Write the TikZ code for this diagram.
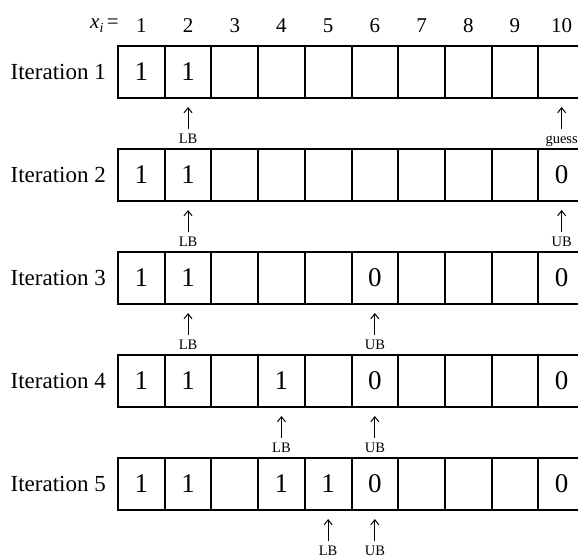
\documentclass[tikz,border=0pt]{standalone}
\usepackage{fontspec}
\setmainfont{Liberation Serif}
\usetikzlibrary{arrows.meta}
\tikzset{
  cell/.style={draw, line width=2pt, minimum width=46.7pt, minimum height=52pt, inner sep=0pt},
  val/.style={inner sep=0pt, font=\fontsize{27}{30}\selectfont},
  rowlab/.style={anchor=east, inner sep=0pt, font=\fontsize{23}{26}\selectfont},
  head/.style={inner sep=0pt, font=\fontsize{21}{24}\selectfont},
  ptr/.style={anchor=base, inner sep=0pt, font=\fontsize{14.5}{16}\selectfont},
  arr/.style={line width=1pt, -{Straight Barb[length=5pt,width=8pt]}}
}
\begin{document}
\begin{tikzpicture}[x=1pt,y=-1pt]
\useasboundingbox (0,0) rectangle (578,557);
\clip (0,0) rectangle (578,557);
\fill[white] (0,0) rectangle (578,557);
% header
\node[head, anchor=east] (hx) at (119,26) {\itshape x\raisebox{-0.4ex}{\fontsize{14}{14}\selectfont i}\upshape\,=};
\foreach \c in {1,...,10} {
  \node[head] (h\c) at ({141.35+(\c-1)*46.7},26) {\c};
}
% rows
\foreach \r in {1,...,5} {
  \pgfmathsetmacro{\cy}{72+(\r-1)*103}
  \node[rowlab] (it\r) at (106,\cy) {Iteration \r};
  \foreach \c in {1,...,10} {
    \node[cell] (r\r c\c) at ({141.35+(\c-1)*46.7},\cy) {};
  }
}
% values
\foreach \r/\c/\v in {1/1/1,1/2/1,
  2/1/1,2/2/1,2/10/0,
  3/1/1,3/2/1,3/6/0,3/10/0,
  4/1/1,4/2/1,4/4/1,4/6/0,4/10/0,
  5/1/1,5/2/1,5/4/1,5/5/1,5/6/0,5/10/0} {
  \node[val] at (r\r c\c) {\v};
}
% pointers
\foreach \r/\c/\t [count=\k] in {1/2/LB,1/10/guess,
  2/2/LB,2/10/UB,
  3/2/LB,3/6/UB,
  4/4/LB,4/6/UB,
  5/5/LB,5/6/UB} {
  \coordinate (tip\k) at ([yshift=-8pt]r\r c\c.south);
  \coordinate (tail\k) at ([yshift=-30pt]r\r c\c.south);
  \node[ptr] (p\k) at ([yshift=-44pt]r\r c\c.south) {\t};
  \draw[arr] (tail\k) -- (tip\k);
}
\end{tikzpicture}
\end{document}
